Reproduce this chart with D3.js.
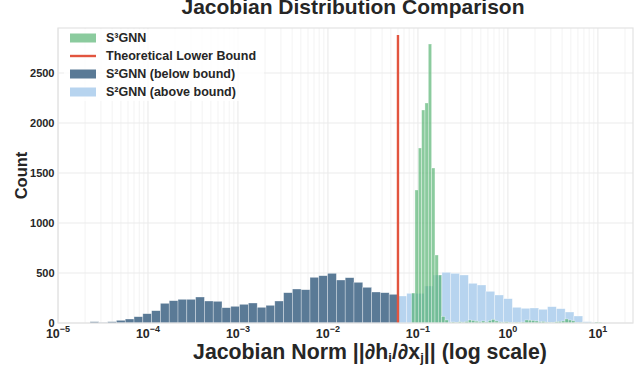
<!DOCTYPE html>
<html>
<head>
<meta charset="utf-8">
<script src="https://cdn.jsdelivr.net/npm/d3@7"></script>
<style>
body { margin: 0; background: #fff; }
svg text { font-family: "Liberation Sans", Arial, sans-serif; font-weight: bold; fill: #262626; }
</style>
</head>
<body>
<svg id="chart" width="644" height="369"></svg>
<script>
// histogram counts (log-spaced bins)
const bound = 0.06;            // theoretical lower bound
const boundTop = 2880;         // how high the red line goes
const belowStart = 2.27e-5;    // first bin edge of S2GNN (below bound)
const belowCounts = [13, 3, 13, 27, 40, 63, 93, 123, 197, 223, 237, 237, 260, 220, 217, 153, 167, 187,
    200, 157, 177, 220, 303, 340, 333, 457, 473, 497, 430, 453, 407, 357, 310, 303, 287];
const aboveCounts = [270, 297, 297, 370, 480, 507, 497, 480, 397, 380, 317, 280, 243, 157, 147, 150,
    137, 163, 143, 110, 70, 13, 5];
const s3Start = 0.0851;        // first bin edge of S3GNN
const s3Step = 0.03704;        // bin width in decades
const s3Counts = [300, 1330, 1750, 2130, 2200, 2790, 1550, 680, 480, 65, 30, 8, 10, 6, 12, 8, 15, 30,
    25, 18, 12, 20, 10, 25, 35, 20, 10, 8, 12, 6, 5, 8, 6, 10, 30, 28, 25, 20, 12, 15, 8, 6, 5, 12, 15,
    20, 40, 30, 22, 5, 3, 2, 0, 2, 0, 10, 8];
const yTicks = [0, 500, 1000, 1500, 2000, 2500];
const xDecades = [-5, -4, -3, -2, -1, 0, 1];

const legendItems = [
    { label: 'S³GNN', type: 'patch', color: '#4daf6a', opacity: 0.65 },
    { label: 'Theoretical Lower Bound', type: 'line', color: '#e2553f', opacity: 1 },
    { label: 'S²GNN (below bound)', type: 'patch', color: '#5a7a96', opacity: 1 },
    { label: 'S²GNN (above bound)', type: 'patch', color: '#b7d4ef', opacity: 1 }
];

const margin = { top: 28, right: 11, bottom: 46, left: 58 };
const W = 644, H = 369;

let svg = d3.select('#chart');

let x = d3.scaleLog()
    .domain([1e-5, Math.pow(10, 1.39)])
    .range([margin.left, W - margin.right]);
let y = d3.scaleLinear()
    .domain([0, 2950])
    .range([H - margin.bottom, margin.top]);

// bins
function makeBins(startLog, step, counts) {
    return counts.map((c, i) => ({
        x0: Math.pow(10, startLog + i * step),
        x1: Math.pow(10, startLog + (i + 1) * step),
        count: c
    }));
}
let lb = Math.log10(belowStart), lbound = Math.log10(bound);
let s2Step = (lbound - lb) / belowCounts.length;
let belowBins = makeBins(lb, s2Step, belowCounts);
let aboveBins = makeBins(lbound, s2Step, aboveCounts);
let s3Bins = makeBins(Math.log10(s3Start), s3Step, s3Counts);

// grid
let grid = svg.append('g');
let minor = [];
for (let k = -5; k <= 1; k++) {
    for (let m = 2; m <= 9; m++) {
        let v = m * Math.pow(10, k);
        if (v < x.domain()[1]) minor.push(v);
    }
}
grid.selectAll('.minor').data(minor).enter().append('line')
    .attr('x1', d => x(d)).attr('x2', d => x(d))
    .attr('y1', margin.top).attr('y2', H - margin.bottom)
    .attr('stroke', '#f0f0f0').attr('stroke-width', 0.8);
grid.selectAll('.major').data(xDecades).enter().append('line')
    .attr('x1', d => x(Math.pow(10, d))).attr('x2', d => x(Math.pow(10, d)))
    .attr('y1', margin.top).attr('y2', H - margin.bottom)
    .attr('stroke', '#e8e8e8').attr('stroke-width', 1);
grid.selectAll('.hgrid').data(yTicks).enter().append('line')
    .attr('x1', margin.left).attr('x2', W - margin.right)
    .attr('y1', d => y(d)).attr('y2', d => y(d))
    .attr('stroke', '#ebebeb').attr('stroke-width', 1);

function drawBars(bins, color, opacity) {
    svg.append('g').selectAll('rect').data(bins.filter(d => d.count > 0)).enter().append('rect')
        .attr('x', d => x(d.x0))
        .attr('width', d => x(d.x1) - x(d.x0))
        .attr('y', d => y(d.count))
        .attr('height', d => y(0) - y(d.count))
        .attr('fill', color)
        .attr('fill-opacity', opacity)
        .attr('stroke', '#ffffff')
        .attr('stroke-opacity', 0.55)
        .attr('stroke-width', 0.6);
}
drawBars(belowBins, legendItems[2].color, 1);
drawBars(aboveBins, legendItems[3].color, 1);
drawBars(s3Bins, legendItems[0].color, legendItems[0].opacity);

// bound line
svg.append('line')
    .attr('x1', x(bound)).attr('x2', x(bound))
    .attr('y1', y(0)).attr('y2', y(boundTop))
    .attr('stroke', legendItems[1].color).attr('stroke-width', 2.4);

// frame
svg.append('rect')
    .attr('x', margin.left).attr('y', margin.top)
    .attr('width', W - margin.right - margin.left)
    .attr('height', H - margin.bottom - margin.top)
    .attr('fill', 'none').attr('stroke', '#e3e3e3').attr('stroke-width', 1.2);

// y tick labels
svg.append('g').selectAll('text').data(yTicks).enter().append('text')
    .attr('x', margin.left - 3.5)
    .attr('y', d => y(d))
    .attr('dy', '0.35em')
    .attr('text-anchor', 'end')
    .attr('font-size', 11)
    .text(d => d);

// x tick labels 10^k
let xt = svg.append('g').selectAll('text').data(xDecades).enter().append('text')
    .attr('x', d => x(Math.pow(10, d)))
    .attr('y', H - margin.bottom + 14.5)
    .attr('text-anchor', 'middle')
    .attr('font-size', 12.5);
xt.append('tspan').text('10');
xt.append('tspan').attr('dy', -6).attr('font-size', 9)
    .text(d => d < 0 ? '\u2212' + (-d) : d);

// title and axis labels
svg.append('text')
    .attr('x', 353).attr('y', 14)
    .attr('text-anchor', 'middle')
    .attr('font-size', 21)
    .text('Jacobian Distribution Comparison');

svg.append('text')
    .attr('transform', 'translate(27,' + ((margin.top + H - margin.bottom) / 2) + ') rotate(-90)')
    .attr('text-anchor', 'middle')
    .attr('font-size', 16.5)
    .text('Count');

let xl = svg.append('text')
    .attr('x', 370).attr('y', 359)
    .attr('text-anchor', 'middle')
    .attr('font-size', 21.3);
xl.append('tspan').text('Jacobian Norm ||\u2202h');
xl.append('tspan').attr('font-size', 13).attr('dy', 3).text('i');
xl.append('tspan').attr('dy', -3).text('/\u2202x');
xl.append('tspan').attr('font-size', 13).attr('dy', 3).text('j');
xl.append('tspan').attr('dy', -3).text('|| (log scale)');

// legend
let lg = svg.append('g').attr('transform', 'translate(70,38)');
lg.append('rect').attr('x', -6).attr('y', -9).attr('width', 200).attr('height', 72)
    .attr('fill', '#ffffff').attr('fill-opacity', 0.8);
legendItems.forEach((d, i) => {
    let row = lg.append('g').attr('transform', 'translate(0,' + (i * 18) + ')');
    if (d.type === 'patch') {
        row.append('rect').attr('x', 0).attr('y', -4.5).attr('width', 26).attr('height', 9)
            .attr('fill', d.color).attr('fill-opacity', d.opacity);
    } else {
        row.append('line').attr('x1', 0).attr('x2', 26).attr('y1', 0).attr('y2', 0)
            .attr('stroke', d.color).attr('stroke-width', 2.4);
    }
    row.append('text').attr('x', 36).attr('y', 0).attr('dy', '0.35em')
        .attr('font-size', 12.5).text(d.label);
});
</script>
</body>
</html>
